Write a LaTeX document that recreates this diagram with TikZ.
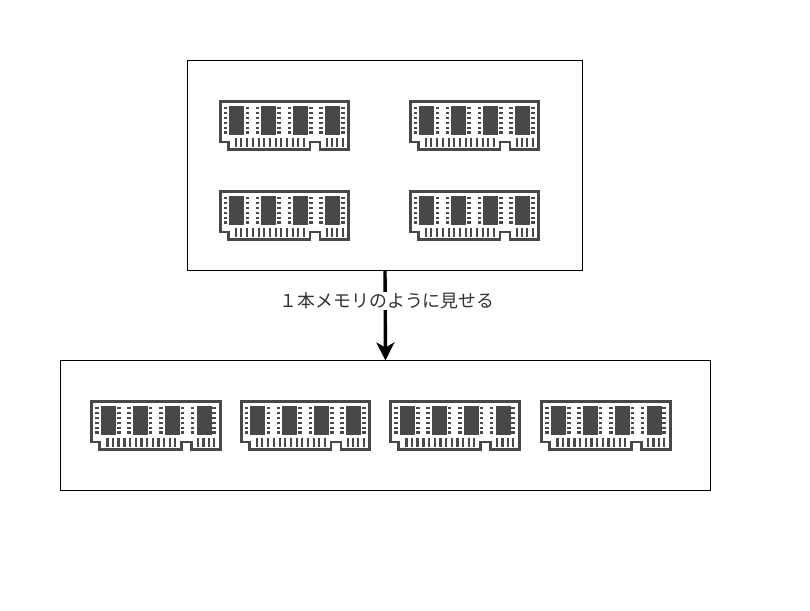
\documentclass[tikz,border=0pt]{standalone}
\usepackage{fontspec}
\newfontfamily\cjk{Noto Sans CJK JP}
\usetikzlibrary{arrows.meta}
\definecolor{ramc}{HTML}{484848}
\tikzset{
  panel/.style={draw=black,line width=0.9pt,fill=white,inner sep=0pt,outer sep=0pt},
  lbl/.style={fill=white,inner sep=1pt,font=\cjk\fontsize{17.9}{20}\selectfont,text=black!80},
  link/.style={draw=black,line width=3.4pt,-{Stealth[length=18pt,width=18pt,inset=5pt]}},
  pics/ram/.style={code={
    \draw[ramc,line width=2.8pt,fill=white,miter limit=10]
      (1.2,1.2)--(129.8,1.2)--(129.8,49.3)--(101,49.3)--(101,42)--(91,42)--(91,49.3)--(9.3,49.3)--(9.3,42)--(1.2,42)--cycle;
    \foreach \c in {10,42,74,106}{\fill[ramc] (\c,6) rectangle ++(15.3,29);}
    \foreach \d in {6.5,28.5,38.5,60,70.3,92,102,123.7}{
      \foreach \e in {8.3,13.2,18,23,27.7,32.4}{
        \fill[ramc] (\d-1.8,\e-1.1) rectangle ++(3.6,2.2);}}
    \foreach \p in {17,22.3,28,34,39.7,45.3,51,56.7,62.3,68,73.7,79.3,84.7,107.7,113,118.3,123.7}{
      \fill[ramc] (\p-1.1,47) rectangle ++(2.2,-8.7);}
  }}
}
\begin{document}
\begin{tikzpicture}[x=1pt,y=-1pt]
\useasboundingbox (0,0) rectangle (810,610);
\node[panel,minimum width=395pt,minimum height=210pt] (top) at (385,165.5) {};
\node[panel,minimum width=650pt,minimum height=130pt] (bot) at (385.5,425.5) {};
\pic at (219,100) {ram};
\pic at (409,100) {ram};
\pic at (219,190) {ram};
\pic at (409,190) {ram};
\pic at (90.5,400) {ram};
\pic at (240,400) {ram};
\pic at (389.5,400) {ram};
\pic at (540.5,400) {ram};
\draw[link] (top.south) -- (bot.north) node[pos=0.33,lbl,xshift=2pt,yshift=-1pt] (cap) {１本メモリのように見せる};
\end{tikzpicture}
\end{document}
